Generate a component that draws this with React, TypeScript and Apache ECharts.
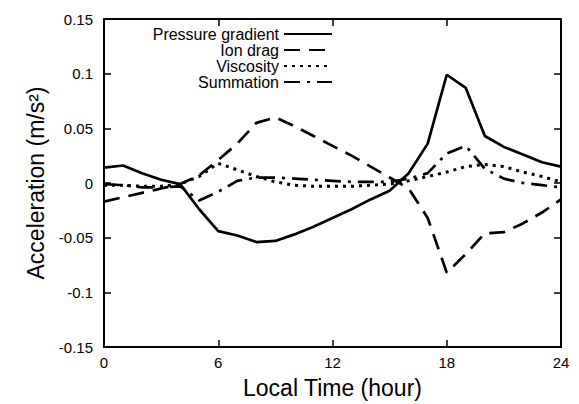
import React, { useEffect, useRef } from "react";
import * as echarts from "echarts";

const hours = [0, 1, 2, 3, 4, 5, 6, 7, 8, 9, 10, 11, 12, 13, 14, 15, 16, 17, 18, 19, 20, 21, 22, 23, 24];
const pressureGradient = [0.014, 0.016, 0.009, 0.003, -0.001, -0.024, -0.044, -0.048, -0.054, -0.053, -0.047, -0.040, -0.032, -0.024, -0.015, -0.007, 0.009, 0.036, 0.099, 0.087, 0.043, 0.033, 0.026, 0.019, 0.015];
const ionDrag = [-0.017, -0.013, -0.009, -0.005, -0.001, 0.007, 0.021, 0.036, 0.055, 0.060, 0.052, 0.043, 0.034, 0.025, 0.015, 0.005, -0.005, -0.032, -0.082, -0.065, -0.046, -0.045, -0.037, -0.027, -0.015];
const viscosity = [-0.002, -0.002, -0.003, -0.003, -0.001, 0.006, 0.018, 0.012, 0.006, 0.001, -0.002, -0.003, -0.003, -0.003, -0.002, -0.001, 0.002, 0.006, 0.010, 0.015, 0.017, 0.015, 0.010, 0.006, 0.001];
const summation = [-0.001, -0.002, -0.004, -0.004, -0.003, -0.016, -0.008, 0.002, 0.005, 0.005, 0.004, 0.003, 0.002, 0.001, 0.001, 0.001, 0.004, 0.009, 0.027, 0.034, 0.013, 0.004, 0.000, -0.002, -0.004];

const seriesNames = ["Pressure gradient", "Ion drag", "Viscosity", "Summation"];
const seriesValues = [pressureGradient, ionDrag, viscosity, summation];
const dashTypes: any[] = ["solid", [16, 9], [3, 5], [16, 7, 3, 7]];

const FONT = "Liberation Sans, Arial, Helvetica, sans-serif";

export default function App() {
  const ref = useRef<HTMLDivElement>(null);
  useEffect(() => {
    if (!ref.current) return;
    const chart = echarts.init(ref.current, undefined, { renderer: "svg" });
    const axisLine = { show: true, onZero: false, lineStyle: { color: "#000", width: 2 } };
    const tick = { show: true, inside: true, length: 7, lineStyle: { color: "#000", width: 1.5 } };
    const legendRows = [34, 50, 66, 82];
    chart.setOption({
      animation: false,
      backgroundColor: "#fff",
      textStyle: { fontFamily: FONT, color: "#000" },
      grid: { left: 104, right: 18, top: 19, bottom: 49, containLabel: false },
      legend: seriesNames.map((name, i) => ({
        data: [name],
        right: 246,
        top: legendRows[i] - 8,
        padding: 0,
        itemWidth: 48,
        itemHeight: 14,
        itemGap: 0,
        itemStyle: { opacity: 0 },
        textStyle: { fontSize: 16, color: "#000", fontFamily: FONT },
        align: "right",
        selectedMode: false,
      })),
      xAxis: [
        {
          type: "value",
          min: 0,
          max: 24,
          interval: 6,
          name: "Local Time (hour)",
          nameLocation: "middle",
          nameGap: 29,
          nameTextStyle: { fontSize: 23, color: "#000", fontFamily: FONT },
          axisLine,
          axisTick: tick,
          axisLabel: { fontSize: 15, color: "#000", margin: 8, fontFamily: FONT },
          splitLine: { show: false },
        },
        {
          type: "value",
          position: "top",
          min: 0,
          max: 24,
          interval: 6,
          axisLine,
          axisTick: tick,
          axisLabel: { show: false },
          splitLine: { show: false },
        },
      ],
      yAxis: [
        {
          type: "value",
          min: -0.15,
          max: 0.15,
          interval: 0.05,
          name: "Acceleration (m/s²)",
          nameLocation: "middle",
          nameGap: 56,
          nameTextStyle: { fontSize: 23, color: "#000", fontFamily: FONT },
          axisLine,
          axisTick: tick,
          axisLabel: {
            fontSize: 15,
            color: "#000",
            margin: 11,
            fontFamily: FONT,
            formatter: (v: number) => {
              const r = Math.round(v * 100) / 100;
              return r === 0 ? "0" : String(r);
            },
          },
          splitLine: { show: false },
        },
        {
          type: "value",
          position: "right",
          min: -0.15,
          max: 0.15,
          interval: 0.05,
          axisLine,
          axisTick: tick,
          axisLabel: { show: false },
          splitLine: { show: false },
        },
      ],
      series: seriesNames.map((name, i) => ({
        name,
        type: "line",
        xAxisIndex: 0,
        yAxisIndex: 0,
        symbol: "none",
        data: hours.map((h, j) => [h, seriesValues[i][j]]),
        lineStyle: { color: "#000", width: i === 2 ? 3 : 2.7, type: dashTypes[i] },
        itemStyle: { color: "#000" },
      })),
    });
    return () => chart.dispose();
  }, []);
  return <div ref={ref} style={{ width: 579, height: 404, position: "absolute", left: 0, top: 0 }} />;
}
